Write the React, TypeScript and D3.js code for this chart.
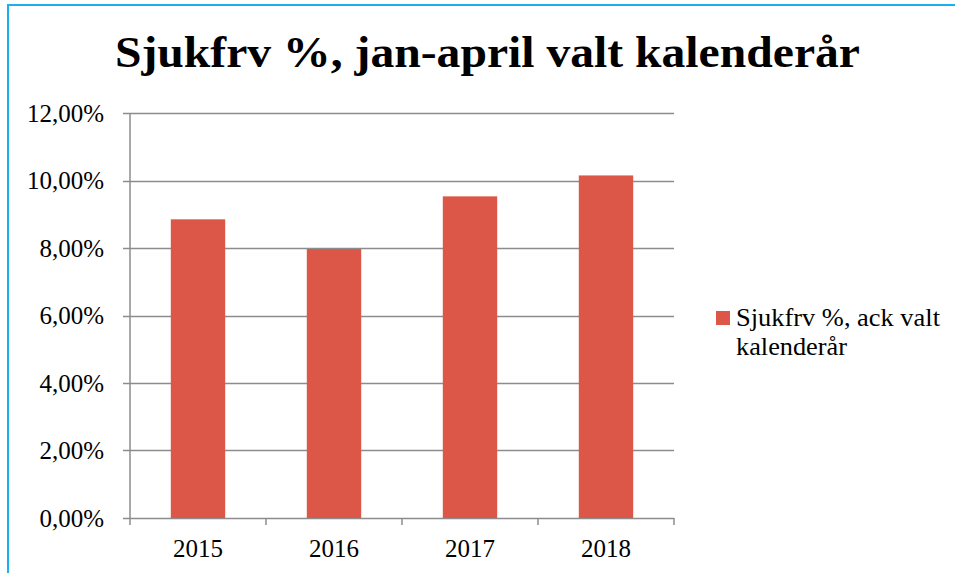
import React from "react";
import * as d3 from "d3";

const categories = ["2015", "2016", "2017", "2018"];
const values = [0.0885, 0.0797, 0.0953, 0.1015];
const yTicks = [0, 0.02, 0.04, 0.06, 0.08, 0.1, 0.12];
const title = "Sjukfrv %, jan-april valt kalenderår";
const legendLines = ["Sjukfrv %, ack valt", "kalenderår"];

const W = 955;
const H = 573;
const plot = { left: 130, right: 674, top: 113, bottom: 518 };
const barColor = "#DC5747";
const gridColor = "#8c8c8c";
const font = "Liberation Serif";
const legendLengths = [204, 111];

export default function App() {
  const band = (plot.right - plot.left) / categories.length;
  const y = d3.scaleLinear().domain([0, 0.12]).range([plot.bottom, plot.top]);
  const fmt = (v: number) => (v * 100).toFixed(2).replace(".", ",") + "%";

  return (
    <svg
      width={W}
      height={H}
      style={{ position: "absolute", left: 0, top: 0, background: "#fff", fontFamily: font }}
    >
      <rect x={0} y={0} width={W} height={H} fill="#fff" />
      <line x1={8} x2={W} y1={5} y2={5} stroke="#1AB0EC" strokeWidth={2} />
      <line x1={8} x2={8} y1={4} y2={H} stroke="#1AB0EC" strokeWidth={2} />
      <text
        x={115}
        y={67}
        fontSize={45}
        fontWeight="bold"
        fill="#000"
        textLength={745}
        lengthAdjust="spacingAndGlyphs"
        style={{ fontFamily: font }}
      >
        {title}
      </text>
      {yTicks.map((t) => (
        <g key={t}>
          <line
            x1={plot.left - 7}
            x2={plot.right}
            y1={Math.round(y(t)) + 0.5}
            y2={Math.round(y(t)) + 0.5}
            stroke={gridColor}
            strokeWidth={1.5}
          />
          <text x={104} y={y(t) + 8.5} textAnchor="end" fontSize={25} fill="#000" style={{ fontFamily: font }}>
            {fmt(t)}
          </text>
        </g>
      ))}
      <line x1={plot.left} x2={plot.left} y1={plot.top} y2={plot.bottom} stroke={gridColor} strokeWidth={1.5} />
      {d3.range(categories.length + 1).map((i) => (
        <line
          key={i}
          x1={plot.left + i * band}
          x2={plot.left + i * band}
          y1={plot.bottom}
          y2={plot.bottom + 7}
          stroke={gridColor}
          strokeWidth={1.5}
        />
      ))}
      {categories.map((c, i) => {
        const cx = plot.left + (i + 0.5) * band;
        const bw = band / 2.5;
        return (
          <g key={c}>
            <rect x={cx - bw / 2} y={y(values[i])} width={bw} height={plot.bottom - y(values[i])} fill={barColor} />
            <text x={cx} y={557} textAnchor="middle" fontSize={25} fill="#000" style={{ fontFamily: font }}>
              {c}
            </text>
          </g>
        );
      })}
      <rect x={716} y={311} width={14} height={14} fill={barColor} />
      {legendLines.map((l, i) => (
        <text
          key={i}
          x={736}
          y={326 + i * 29}
          fontSize={25}
          fill="#000"
          textLength={legendLengths[i]}
          lengthAdjust="spacingAndGlyphs"
          style={{ fontFamily: font }}
        >
          {l}
        </text>
      ))}
    </svg>
  );
}
